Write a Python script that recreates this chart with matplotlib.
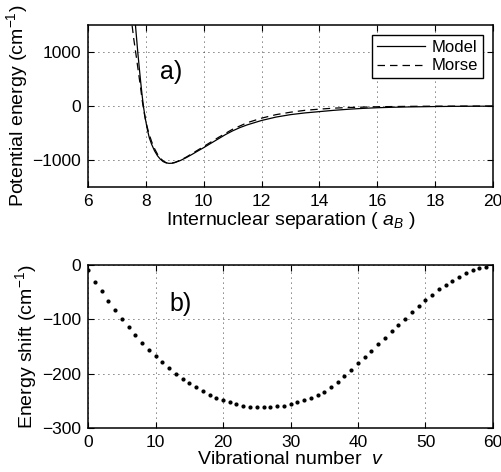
import matplotlib
matplotlib.use("Agg")
import matplotlib.pyplot as plt
import numpy as np

plt.rcParams['font.family'] = ['Liberation Sans', 'DejaVu Sans']
plt.rcParams['mathtext.fontset'] = 'custom'
plt.rcParams['mathtext.rm'] = 'Liberation Sans'
plt.rcParams['mathtext.it'] = 'Liberation Sans:italic'
plt.rcParams['mathtext.bf'] = 'Liberation Sans:bold'

# ---- Panel a) data: potential curves ----
model_r = [7.58, 7.63, 7.68, 7.72, 7.77, 7.82, 7.87, 7.92, 7.98, 8.05, 8.12, 8.2, 8.3, 8.4,
           8.5, 8.6, 8.7, 8.8, 8.9, 9.0, 9.2, 9.4, 9.6, 9.8, 10.0, 10.25, 10.5, 10.75, 11.0,
           11.25, 11.5, 12.0, 12.5, 13.0, 13.5, 14.0, 14.5, 15.0, 15.5, 16.0, 16.5, 17.0,
           18.0, 19.0, 20.0]
model_V = [1900, 1560, 1250, 1000, 720, 450, 200, -20, -230, -430, -590, -710, -830, -920,
           -985, -1030, -1053, -1062, -1060, -1048, -1008, -955, -895, -832, -771, -690,
           -610, -530, -460, -400, -350, -268, -205, -160, -128, -104, -80, -60, -44, -32,
           -24, -18, -10, -5, -3]

morse_r = [7.45, 7.5, 7.58, 7.66, 7.74, 7.82, 7.88, 7.94, 8.0, 8.1, 8.2, 8.3, 8.4, 8.5, 8.6,
           8.7, 8.8, 8.9, 9.0, 9.2, 9.4, 9.6, 9.8, 10.0, 10.5, 11.0, 11.5, 12.0, 12.5, 13.0,
           13.5, 14.0, 14.5, 15.0, 16.0, 17.0, 18.0, 20.0]
morse_V = [1950, 1600, 1250, 950, 640, 330, 80, -120, -290, -500, -660, -790, -890, -965,
           -1018, -1048, -1060, -1058, -1045, -1002, -945, -880, -815, -750, -585, -430,
           -310, -225, -160, -115, -80, -58, -40, -28, -14, -7, -3, -1]

# ---- Panel b) data: energy shift vs vibrational number ----
vib_v = list(range(0, 60))
shift = [-10, -31, -48, -67, -83, -99, -115, -129, -143, -156, -168, -179, -190, -200,
         -209, -218, -225, -232, -239, -244, -249, -253, -256, -259, -261, -261, -262,
         -261, -260, -259, -256, -253, -249, -245, -239, -233, -225, -215, -204, -193,
         -181, -170, -158, -146, -134, -122, -110, -99, -87, -76, -65, -55, -45, -37,
         -29, -22, -15, -10, -6, -3]

W, H = 502, 472
fig = plt.figure(figsize=(W / 100, H / 100), dpi=100)

tick_fs = 12.5
label_fs = 14


def style_axes(ax):
    for s in ax.spines.values():
        s.set_linewidth(1.1)
        s.set_color('k')
    ax.tick_params(direction='in', top=True, right=True, length=4, width=0.8,
                   labelsize=tick_fs, pad=5)
    ax.grid(True, linestyle=(0, (1, 5)), color='k', linewidth=0.6)
    ax.set_axisbelow(True)


ax1 = fig.add_axes([88 / W, 1 - 187 / H, 405 / W, 162 / H])
ax1.plot(model_r, model_V, color='k', lw=0.9, label='Model')
ax1.plot(morse_r, morse_V, color='k', lw=0.9, linestyle=(0, (6, 4)), label='Morse')
ax1.set_xlim(6, 20)
ax1.set_ylim(-1500, 1500)
ax1.set_xticks(np.arange(6, 21, 2))
ax1.set_yticks([-1000, 0, 1000])
style_axes(ax1)
ax1.set_xlabel('Internuclear separation ( $a_B$ )', fontsize=label_fs, labelpad=1)
ax1.set_ylabel('Potential energy (cm$^{-1}$)', fontsize=label_fs, labelpad=2)
ax1.text(8.5, 500, 'a)', fontsize=18, va='baseline', ha='left')
leg = ax1.legend(loc='upper right', fontsize=12, frameon=True, fancybox=False,
                 edgecolor='k', framealpha=1, handlelength=2.9, borderpad=0.3,
                 labelspacing=0.2, handletextpad=0.4, borderaxespad=0.6)
leg.get_frame().set_linewidth(1.0)

ax2 = fig.add_axes([88 / W, 1 - 428 / H, 405 / W, 163 / H])
ax2.plot(vib_v, shift, linestyle='none', marker='o', markersize=2.0, color='k')
ax2.set_xlim(0, 60)
ax2.set_ylim(-300, 0)
ax2.set_xticks(np.arange(0, 61, 10))
ax2.set_yticks([-300, -200, -100, 0])
style_axes(ax2)
ax2.set_xlabel('Vibrational number  $v$', fontsize=label_fs, labelpad=1)
ax2.set_ylabel('Energy shift (cm$^{-1}$)', fontsize=label_fs, labelpad=2)
ax2.text(12, -85, 'b)', fontsize=18, va='baseline', ha='left')

fig.savefig('out.png', dpi=100)
